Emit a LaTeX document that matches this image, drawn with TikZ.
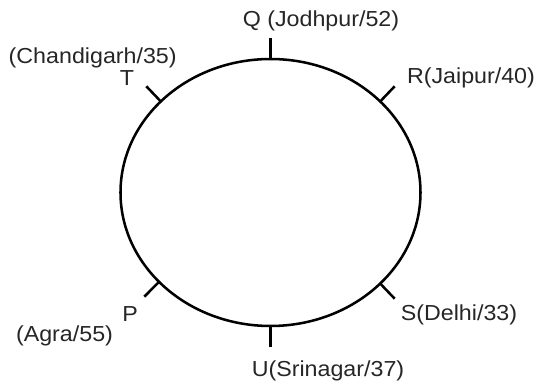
\documentclass[tikz,border=0pt]{standalone}
\usepackage{fontspec}
\setmainfont{Liberation Sans}[FakeStretch=1.07]
\usetikzlibrary{calc,positioning}
\tikzset{
  ring/.style ={black,line width=2.4pt},
  seat/.style ={black,line width=2.4pt},
  city/.style ={anchor=base,inner sep=0pt,text=black!85,font=\fontsize{20.6}{25}\selectfont},
}

\begin{document}
\begin{tikzpicture}
  \useasboundingbox (-9.017,-6.383) rectangle (9.017,6.417);
  \draw[ring] (0,0) ellipse (5cm and 4.45cm);
  % points on the table
  \coordinate (q) at (90:5cm and 4.45cm);
  \coordinate (r) at (43:5cm and 4.45cm);
  \coordinate (s) at (-43:5cm and 4.45cm);
  \coordinate (u) at (-90:5cm and 4.45cm);
  \coordinate (p) at (222:5cm and 4.45cm);
  \coordinate (t) at (137:5cm and 4.45cm);
  % outer ends of the ticks
  \coordinate (q') at ($(q)+(90:0.7)$);
  \coordinate (r') at ($(r)+(46.3:0.7)$);
  \coordinate (s') at ($(s)+(-46.3:0.7)$);
  \coordinate (u') at ($(u)+(-90:0.7)$);
  \coordinate (p') at ($(p)+(225.3:0.7)$);
  \coordinate (t') at ($(t)+(133.7:0.7)$);
  \draw[seat] (q) -- (q');
  \draw[seat] (r) -- (r');
  \draw[seat] (s) -- (s');
  \draw[seat] (u) -- (u');
  \draw[seat] (p) -- (p');
  \draw[seat] (t) -- (t');
  % labels
  \node[city] (qlab) at (1.683,5.517) {Q (Jodhpur/52)};
  \node[city] (rlab) at (6.683,3.617) {R(Jaipur/40)};
  \node[city] (slab) at (6.283,-4.283) {S(Delhi/33)};
  \node[city] (ulab) at (1.917,-6.117) {U(Srinagar/37)};
  \node[city] (plab) at (-4.683,-4.307) {P};
  \node[city] (pcity) at (-6.867,-4.983) {(Agra/55)};
  \node[city] (tlab) at (-4.783,3.583) {T};
  \node[city] (tcity) at (-5.927,4.307) {(Chandigarh/35)};
\end{tikzpicture}
\end{document}
